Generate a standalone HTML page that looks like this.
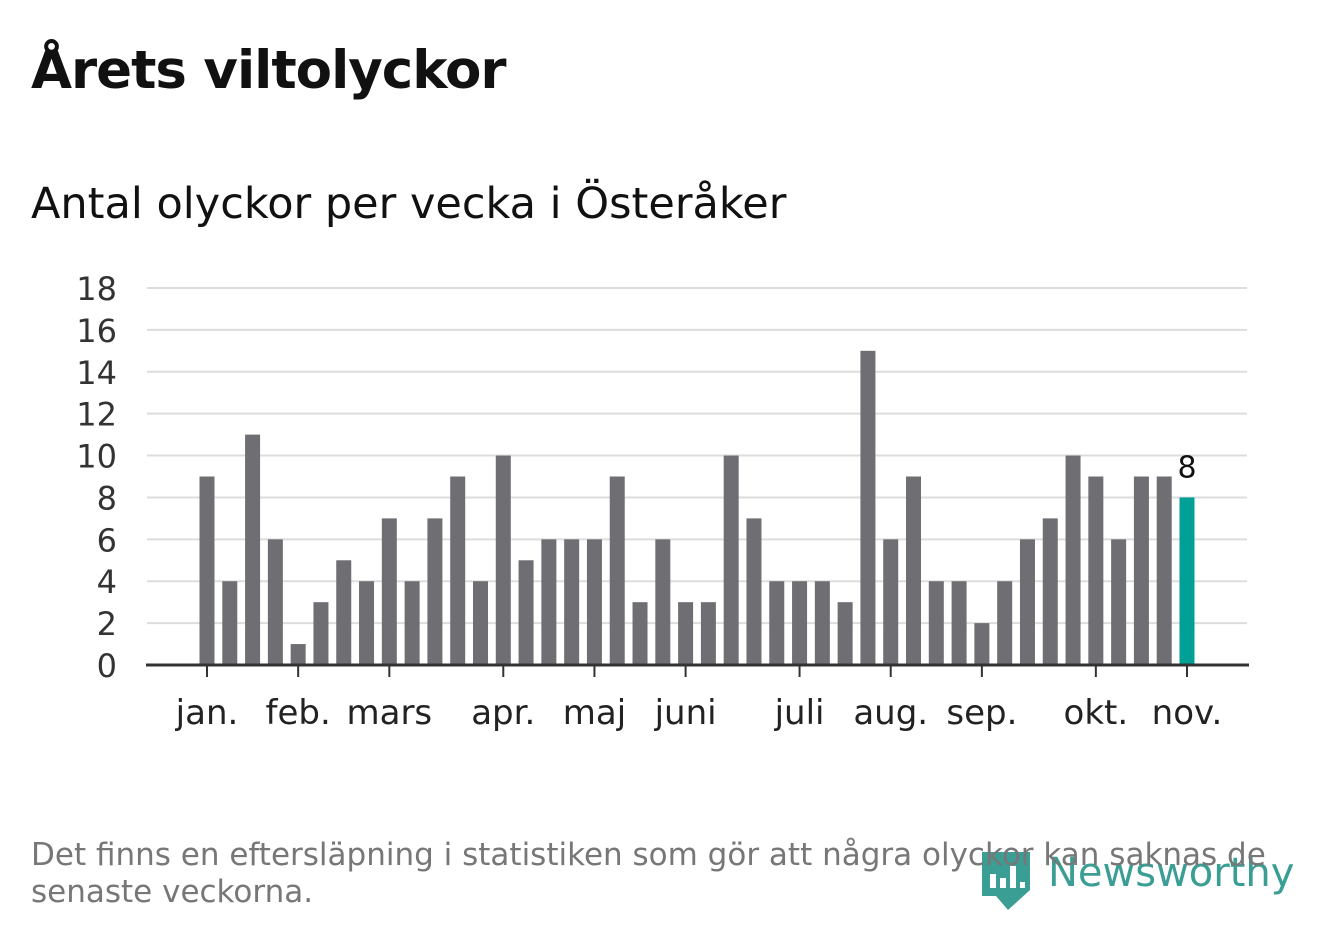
<!DOCTYPE html>
<html><head><meta charset="utf-8"><style>
body{margin:0;width:1322px;height:939px;background:#fff;font-family:"DejaVu Sans","Liberation Sans",sans-serif;overflow:hidden;position:relative}
.t{position:absolute;white-space:nowrap}
</style></head><body>
<div class="t" style="left:31px;top:40px;font-size:53px;font-weight:bold;color:#111;letter-spacing:-1px">Årets viltolyckor</div>
<div class="t" style="left:31px;top:179px;font-size:43px;color:#111;letter-spacing:0px">Antal olyckor per vecka i Österåker</div>
<svg id="c" width="1322" height="939" style="position:absolute;left:0;top:0"></svg>
<div style="position:absolute;left:982px;top:852px;">
<svg width="50" height="58"><path d="M0 0H48V38L26 58L14 44H0Z" fill="#3a9e94"/><rect x="8" y="22" width="6" height="14" fill="#fff"/><rect x="18" y="26" width="6" height="10" fill="#fff"/><rect x="28" y="14" width="6" height="22" fill="#fff"/><rect x="38" y="30" width="5" height="6" fill="#fff"/></svg>
<div class="t" style="left:66px;top:-2px;font-size:40px;font-weight:normal;color:#3a9e94;letter-spacing:0px">Newsworthy</div></div>
<div class="t" style="left:31px;top:837px;font-size:31px;color:#777;line-height:37px;letter-spacing:0px">Det finns en eftersläpning i statistiken som gör att några olyckor kan saknas de<br>senaste veckorna.</div>
<script>
const values=[9,4,11,6,1,3,5,4,7,4,7,9,4,10,5,6,6,6,9,3,6,3,3,10,7,4,4,4,3,15,6,9,4,4,2,4,6,7,10,9,6,9,9,8];
const yTicks=[0,2,4,6,8,10,12,14,16,18];
const monthLabels=["jan.","feb.","mars","apr.","maj","juni","juli","aug.","sep.","okt.","nov."];
const monthIdx=[0,4,8,13,17,21,26,30,34,39,43];
const ns="http://www.w3.org/2000/svg",svg=document.getElementById('c');
const x0=207,x1=1187,yB=665,yT=288,yMax=18;
const X=i=>x0+(x1-x0)*i/(values.length-1);
const Y=v=>yB-(yB-yT)*v/yMax;
function mk(t,a,p){const e=document.createElementNS(ns,t);for(const k in a)e.setAttribute(k,a[k]);(p||svg).appendChild(e);return e;}
yTicks.forEach(v=>{
 const l=mk('line',{x1:147,x2:1247,y1:Y(v),y2:Y(v),stroke:'#ddd','stroke-width':2});
 
 
 const t=mk('text',{x:117,y:Y(v)+12,'text-anchor':'end','font-size':32,fill:'#333'});t.textContent=v;
 
 
});
values.forEach((v,i)=>{
 const last=i===values.length-1;
 const r=mk('rect',{x:X(i)-7.5,y:Y(v),width:15,height:yB-Y(v),fill:last?'#00a096':'#6f6e73'});
 
 
 if(last){const t=mk('text',{x:X(i),y:Y(v)-20,'text-anchor':'middle','font-size':30,fill:'#111'});t.textContent=v;
 
 }
});
const ax=mk('line',{x1:146,x2:1249,y1:yB,y2:yB,stroke:'#333','stroke-width':3});


monthIdx.forEach((k,j)=>{
 const tk=mk('line',{x1:X(k),x2:X(k),y1:yB,y2:yB+12,stroke:'#333','stroke-width':2});
 
 
 const t=mk('text',{x:X(k),y:724,'text-anchor':'middle','font-size':34,fill:'#222'});t.textContent=monthLabels[j];
 
 
});
</script>
</body></html>
